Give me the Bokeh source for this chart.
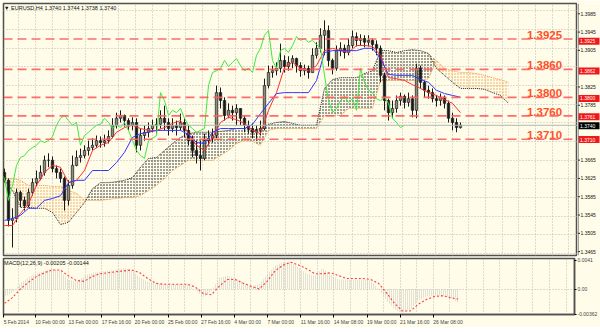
import numpy as np
from bokeh.plotting import figure
from bokeh.models import Range1d, FixedTicker, Label, Span
from bokeh.layouts import column, row
from bokeh.embed import file_html
from bokeh.resources import INLINE
from bokeh.core.properties import value

# ---------------- data (one candle = one 4px slot) ----------------
closes = [1.3622, 1.3536, 1.3540, 1.3596, 1.3579, 1.3568, 1.3596, 1.3617, 1.3626, 1.3639,
          1.3665, 1.3665, 1.3647, 1.3639, 1.3626, 1.3579, 1.3611, 1.3654, 1.3671, 1.3675,
          1.3686, 1.3692, 1.3697, 1.3707, 1.3703, 1.3707, 1.3716, 1.3740, 1.3755, 1.3761,
          1.3750, 1.3740, 1.3746, 1.3697, 1.3718, 1.3725, 1.3733, 1.3740, 1.3742, 1.3755,
          1.3746, 1.3733, 1.3740, 1.3735, 1.3746, 1.3729, 1.3707, 1.3686, 1.3675, 1.3669,
          1.3707, 1.3712, 1.3718, 1.3810, 1.3793, 1.3761, 1.3772, 1.3767, 1.3776, 1.3755,
          1.3740, 1.3733, 1.3725, 1.3729, 1.3733, 1.3825, 1.3853, 1.3857, 1.3862, 1.3879,
          1.3866, 1.3875, 1.3883, 1.3868, 1.3857, 1.3862, 1.3853, 1.3890, 1.3905, 1.3933,
          1.3943, 1.3879, 1.3862, 1.3900, 1.3905, 1.3896, 1.3911, 1.3930, 1.3922, 1.3926,
          1.3918, 1.3922, 1.3913, 1.3905, 1.3847, 1.3793, 1.3767, 1.3776, 1.3793, 1.3802,
          1.3789, 1.3797, 1.3772, 1.3862, 1.3832, 1.3815, 1.3810, 1.3797, 1.3793, 1.3800,
          1.3787, 1.3755, 1.3746, 1.3735, 1.3740]
highs = [1.3647, 1.3626, 1.3562, 1.3604, 1.3600, 1.3587, 1.3604, 1.3626, 1.3643, 1.3654,
         1.3675, 1.3680, 1.3673, 1.3654, 1.3647, 1.3630, 1.3622, 1.3675, 1.3686, 1.3690,
         1.3697, 1.3707, 1.3712, 1.3718, 1.3716, 1.3720, 1.3729, 1.3755, 1.3767, 1.3772,
         1.3763, 1.3755, 1.3757, 1.3755, 1.3733, 1.3740, 1.3746, 1.3752, 1.3755, 1.3772,
         1.3782, 1.3755, 1.3755, 1.3750, 1.3765, 1.3755, 1.3740, 1.3718, 1.3707, 1.3707,
         1.3722, 1.3729, 1.3733, 1.3825, 1.3821, 1.3800, 1.3787, 1.3782, 1.3785, 1.3776,
         1.3761, 1.3750, 1.3744, 1.3740, 1.3750, 1.3840, 1.3868, 1.3868, 1.3875, 1.3915,
         1.3890, 1.3888, 1.3890, 1.3885, 1.3875, 1.3870, 1.3868, 1.3905, 1.3918, 1.3948,
         1.3965, 1.3954, 1.3883, 1.3911, 1.3918, 1.3913, 1.3926, 1.3943, 1.3939, 1.3935,
         1.3933, 1.3933, 1.3926, 1.3922, 1.3911, 1.3853, 1.3797, 1.3793, 1.3804, 1.3810,
         1.3806, 1.3810, 1.3804, 1.3872, 1.3868, 1.3836, 1.3825, 1.3819, 1.3804, 1.3808,
         1.3804, 1.3793, 1.3767, 1.3755, 1.3746]
lows = [1.3617, 1.3523, 1.3478, 1.3532, 1.3564, 1.3557, 1.3564, 1.3589, 1.3609, 1.3622,
        1.3632, 1.3650, 1.3639, 1.3626, 1.3617, 1.3557, 1.3568, 1.3604, 1.3652, 1.3660,
        1.3669, 1.3675, 1.3686, 1.3692, 1.3692, 1.3694, 1.3701, 1.3712, 1.3733, 1.3746,
        1.3737, 1.3729, 1.3729, 1.3682, 1.3686, 1.3707, 1.3714, 1.3725, 1.3722, 1.3733,
        1.3729, 1.3718, 1.3725, 1.3718, 1.3729, 1.3714, 1.3697, 1.3671, 1.3658, 1.3643,
        1.3665, 1.3697, 1.3703, 1.3712, 1.3776, 1.3750, 1.3755, 1.3750, 1.3740, 1.3740,
        1.3725, 1.3722, 1.3712, 1.3707, 1.3718, 1.3729, 1.3819, 1.3842, 1.3847, 1.3853,
        1.3853, 1.3857, 1.3862, 1.3853, 1.3844, 1.3847, 1.3840, 1.3853, 1.3883, 1.3896,
        1.3890, 1.3866, 1.3849, 1.3857, 1.3888, 1.3883, 1.3890, 1.3905, 1.3909, 1.3911,
        1.3907, 1.3909, 1.3900, 1.3890, 1.3832, 1.3772, 1.3750, 1.3755, 1.3767, 1.3782,
        1.3776, 1.3780, 1.3757, 1.3755, 1.3819, 1.3800, 1.3797, 1.3789, 1.3780, 1.3782,
        1.3776, 1.3746, 1.3729, 1.3725, 1.3733]
first_open = 1.3639
opens = [first_open] + closes[:-1]

# Ichimoku lines, one value every second slot
tenkan = [1.3525, 1.3525, 1.3551, 1.3572, 1.3611, 1.3639, 1.3654, 1.3650, 1.3617, 1.3622,
          1.3643, 1.3686, 1.3697, 1.3703, 1.3725, 1.3735, 1.3740, 1.3733, 1.3729, 1.3729,
          1.3735, 1.3744, 1.3750, 1.3722, 1.3697, 1.3686, 1.3714, 1.3746, 1.3757, 1.3752,
          1.3744, 1.3729, 1.3722, 1.3772, 1.3810, 1.3864, 1.3875, 1.3862, 1.3857, 1.3868,
          1.3900, 1.3905, 1.3900, 1.3896, 1.3911, 1.3911, 1.3909, 1.3890, 1.3842, 1.3840,
          1.3836, 1.3827, 1.3819, 1.3810, 1.3804, 1.3795, 1.3787, 1.3767]
kijun = [1.3536, 1.3540, 1.3547, 1.3562, 1.3562, 1.3579, 1.3583, 1.3589, 1.3617, 1.3622,
         1.3622, 1.3643, 1.3643, 1.3643, 1.3660, 1.3682, 1.3714, 1.3722, 1.3725, 1.3729,
         1.3729, 1.3729, 1.3729, 1.3720, 1.3703, 1.3701, 1.3725, 1.3733, 1.3733, 1.3733,
         1.3733, 1.3742, 1.3765, 1.3787, 1.3808, 1.3810, 1.3810, 1.3810, 1.3810, 1.3836,
         1.3896, 1.3900, 1.3900, 1.3900, 1.3900, 1.3905, 1.3905, 1.3883, 1.3849, 1.3847,
         1.3847, 1.3847, 1.3838, 1.3832, 1.3815, 1.3808, 1.3804, 1.3800]
span_a = [1.3622, 1.3600, 1.3564, 1.3564, 1.3562, 1.3562, 1.3553, 1.3527, 1.3532, 1.3553,
          1.3574, 1.3604, 1.3617, 1.3617, 1.3619, 1.3622, 1.3628, 1.3650, 1.3669, 1.3671,
          1.3686, 1.3701, 1.3714, 1.3722, 1.3725, 1.3725, 1.3725, 1.3727, 1.3729, 1.3733,
          1.3733, 1.3729, 1.3733, 1.3742, 1.3746, 1.3748, 1.3744, 1.3740, 1.3740, 1.3740,
          1.3819, 1.3838, 1.3842, 1.3842, 1.3842, 1.3851, 1.3857, 1.3900, 1.3900, 1.3896,
          1.3900, 1.3902, 1.3900, 1.3894, 1.3862, 1.3847, 1.3832, 1.3819, 1.3819, 1.3819,
          1.3817, 1.3810, 1.3804, 1.3787]
span_b = [1.3626, 1.3626, 1.3622, 1.3611, 1.3611, 1.3611, 1.3609, 1.3609, 1.3600, 1.3594,
          1.3579, 1.3579, 1.3579, 1.3581, 1.3583, 1.3585, 1.3585, 1.3589, 1.3600, 1.3611,
          1.3626, 1.3643, 1.3654, 1.3665, 1.3665, 1.3665, 1.3665, 1.3675, 1.3686, 1.3701,
          1.3707, 1.3705, 1.3697, 1.3729, 1.3733, 1.3733, 1.3733, 1.3733, 1.3733, 1.3733,
          1.3761, 1.3761, 1.3761, 1.3776, 1.3776, 1.3776, 1.3776, 1.3836, 1.3836, 1.3836,
          1.3836, 1.3836, 1.3836, 1.3840, 1.3879, 1.3862, 1.3857, 1.3853, 1.3853, 1.3851,
          1.3847, 1.3842, 1.3838, 1.3832]
chikou_shift = 14

# MACD(12,26,9), one value every second slot
macd_main = [-0.00109, -0.00055, 0.00082, 0.00164, 0.00219, 0.00260, 0.00287, 0.00260, 0.00137, 0.00109,
             0.00178, 0.00232, 0.00246, 0.00260, 0.00273, 0.00301, 0.00273, 0.00164, 0.00109, 0.00082,
             0.00068, 0.00068, 0.00068, 0.00068, -0.00014, -0.00123, -0.00027, 0.00164, 0.00191, 0.00150,
             0.00096, 0.00041, 0.00068, 0.00205, 0.00328, 0.00383, 0.00383, 0.00301, 0.00219, 0.00191,
             0.00301, 0.00205, 0.00137, 0.00137, 0.00137, 0.00137, 0.00123, 0.00000, -0.00164, -0.00287,
             -0.00342, -0.00301, -0.00164, -0.00109, -0.00096, -0.00096, -0.00123, -0.00205]
macd_signal = [-0.00205, -0.00123, 0.00000, 0.00096, 0.00178, 0.00232, 0.00273, 0.00273, 0.00191, 0.00123,
               0.00109, 0.00178, 0.00219, 0.00232, 0.00246, 0.00260, 0.00273, 0.00232, 0.00150, 0.00082,
               0.00068, 0.00068, 0.00068, 0.00068, 0.00027, -0.00068, -0.00082, 0.00041, 0.00137, 0.00137,
               0.00082, 0.00041, 0.00000, 0.00109, 0.00260, 0.00342, 0.00383, 0.00342, 0.00287, 0.00219,
               0.00219, 0.00232, 0.00191, 0.00150, 0.00150, 0.00150, 0.00137, 0.00082, -0.00055, -0.00205,
               -0.00314, -0.00314, -0.00219, -0.00150, -0.00109, -0.00096, -0.00123, -0.00144]

levels = [1.3925, 1.3860, 1.3800, 1.3760, 1.3710]
level_texts = ["1.3925", "1.3860", "1.3800", "1.3760", "1.3710"]
box_texts = ["1.3925", "1.3862", "1.3800", "1.3761", "1.3710"]
price_ticks = [1.3985, 1.3945, 1.3905, 1.3865, 1.3825, 1.3785, 1.3745, 1.3705,
               1.3665, 1.3625, 1.3585, 1.3545, 1.3505, 1.3465]
hidden_ticks = [1.3865, 1.3745, 1.3705]
macd_ticks = [0.0041, 0.0, -0.00362]
macd_tick_texts = ["0.0041", "0.00", "-0.00362"]
date_labels = ["5 Feb 2014", "10 Feb 00:00", "13 Feb 00:00", "17 Feb 16:00", "20 Feb 00:00",
               "25 Feb 00:00", "27 Feb 16:00", "4 Mar 00:00", "7 Mar 00:00", "11 Mar 16:00",
               "14 Mar 08:00", "19 Mar 00:00", "21 Mar 16:00", "26 Mar 08:00"]
header = "\u25bc EURUSD,H4 1.3740 1.3744 1.3738 1.3740"
macd_header = "MACD(12,26,9) -0.00205 -0.00144"

# ---------------- styling / layout constants ----------------
BG = "#fffde9"
FRAME = "#505050"
GRID = "#bdbdb0"
FONT = "Liberation Sans"
PX_PER_PRICE = 1 / 0.0002144          # vertical scale of the price panel
TOP_PRICE = 1.40075                   # price at canvas row 0
XR = Range1d(-0.25, 143.25)           # 4 px per slot, frame from x=3 to x=577
LABEL_STEP = 8.335
label_start = [-0.2] + [round(-0.575 + LABEL_STEP * k, 3) for k in range(1, len(date_labels))]
vgrid = [round(-0.575 + LABEL_STEP / 2 * k, 3) for k in range(1, 35)]
CHAR_EM = {" ": 0.278, ":": 0.278, "F": 0.611, "e": 0.556, "b": 0.556, "M": 0.833,
           "a": 0.556, "r": 0.333}
def text_w(s, size):
    return sum(CHAR_EM.get(ch, 0.556) for ch in s) * size
label_center = [round(s + text_w(t, 5) / 2 / 4, 3) for s, t in zip(label_start, date_labels)]

# ---------------- main panel ----------------
p = figure(width=577, height=257, x_range=XR,
           y_range=Range1d(TOP_PRICE - 255 / PX_PER_PRICE, TOP_PRICE - 3 / PX_PER_PRICE),
           output_backend="svg", toolbar_location=None, x_axis_location=None,
           y_axis_location=None, min_border_left=3, min_border_right=0,
           min_border_top=3, min_border_bottom=2, background_fill_color=BG,
           border_fill_color=BG, outline_line_color=FRAME, outline_line_width=1.5)
p.ygrid.ticker = FixedTicker(ticks=price_ticks)
p.xgrid.ticker = FixedTicker(ticks=vgrid)
for g in (p.xgrid, p.ygrid):
    g.grid_line_color = GRID
    g.grid_line_dash = "1 2"
    g.grid_line_width = 1

# cloud
xc = np.arange(len(span_a)) * 2
a = np.array(span_a)
b = np.array(span_b)
top = np.maximum(a, b)
p.varea(x=xc, y1=b, y2=top, fill_alpha=0, hatch_pattern="dot", hatch_color="#111111",
        hatch_scale=3, hatch_weight=0.5)
p.varea(x=xc, y1=a, y2=top, fill_alpha=0, hatch_pattern="dot", hatch_color="#f09a40",
        hatch_scale=3, hatch_weight=0.5)
p.line(xc, a, line_color="#222222", line_dash="1 1", line_width=1)
p.line(xc, b, line_color="#f09a40", line_dash="1 1", line_width=1)

# levels
for lv in levels:
    p.add_layout(Span(location=lv, dimension="width", line_color="#ff5c5c",
                      line_dash="9 5", line_width=1.7, line_alpha=0.9))
p.add_layout(Span(location=closes[-1], dimension="width", line_color="#b4b4b4", line_width=1))
p.text(x=[130.6] * len(levels), y=levels, text=level_texts, text_font=value(FONT),
       text_font_size="11.5px", text_font_style="bold", text_color="#ff5028",
       text_baseline="alphabetic", y_offset=-4)

# candles
xs = np.arange(len(closes))
o = np.array(opens); c = np.array(closes)
inc = c >= o
p.segment(x0=xs, y0=lows, x1=xs, y1=highs, line_color="#1a1a1a", line_width=1)
p.vbar(x=xs[inc], width=0.6, top=c[inc], bottom=o[inc], fill_color="#8e8f7c",
       line_color="#1a1a1a", line_width=0.7)
p.vbar(x=xs[~inc], width=0.6, top=o[~inc], bottom=c[~inc], fill_color="#1a1a1a",
       line_color="#1a1a1a", line_width=0.7)

# ichimoku lines
xl = np.arange(len(tenkan)) * 2
p.line(xl, tenkan, line_color="#ff3030", line_width=1)
p.line(xl, kijun, line_color="#3535ff", line_width=1)
p.line(xs - chikou_shift, closes, line_color="#3ee83e", line_width=1)

p.add_layout(Label(x=-0.1, y=TOP_PRICE - 3 / PX_PER_PRICE, text=header, text_font=FONT,
                   text_font_size="5.5px", text_baseline="top", y_offset=-1,
                   text_color="#111111"))

# ---------------- price scale panel (right of the main panel) ----------------
pa = figure(width=23, height=257, x_range=Range1d(0, 23),
            y_range=Range1d(TOP_PRICE - 257 / PX_PER_PRICE, TOP_PRICE),
            output_backend="svg", toolbar_location=None, x_axis_location=None,
            y_axis_location=None, min_border=0, background_fill_color=BG,
            border_fill_color=BG, outline_line_color=None)
pa.xgrid.visible = False
pa.ygrid.visible = False
shown = [t for t in price_ticks if t not in hidden_ticks]
pa.add_layout(Span(location=0.5, dimension="height", line_color=FRAME, line_width=1))
pa.segment(x0=[0] * len(shown), y0=shown, x1=[2.5] * len(shown), y1=shown,
           line_color="#222222", line_width=1)
pa.text(x=[3] * len(shown), y=shown, text=["%.4f" % t for t in shown], text_font=value(FONT),
        text_font_size="5px", text_color="#111111", text_baseline="middle")
pa.rect(x=[11.5] * len(levels), y=levels, width=21, height=7, height_units="screen",
        fill_color="#f01818", line_color=None)
pa.text(x=[2.5] * len(levels), y=levels, text=box_texts, text_font=value(FONT),
        text_font_size="5px", text_color="white", text_baseline="middle")
pa.rect(x=[11.5], y=[closes[-1]], width=21, height=7, height_units="screen",
        fill_color="#000000", line_color=None)
pa.text(x=[2.5], y=[closes[-1]], text=["%.4f" % closes[-1]], text_font=value(FONT),
        text_font_size="5px", text_color="white", text_baseline="middle")

# ---------------- MACD panel ----------------
q = figure(width=600, height=70, x_range=XR, y_range=Range1d(-0.00365, 0.00437),
           output_backend="svg", toolbar_location=None, y_axis_location="right",
           x_axis_location="below", min_border_left=3, min_border_right=23,
           min_border_top=1, min_border_bottom=11, background_fill_color=BG,
           border_fill_color=BG, outline_line_color=FRAME, outline_line_width=1.5)
q.yaxis.ticker = FixedTicker(ticks=macd_ticks)
q.yaxis.major_label_overrides = dict(zip(macd_ticks, macd_tick_texts))
q.yaxis.major_tick_out = 2
q.xaxis.ticker = FixedTicker(ticks=label_center, minor_ticks=label_start)
q.xaxis.major_label_overrides = dict(zip(label_center, date_labels))
q.xaxis.major_tick_out = 0
q.xaxis.minor_tick_out = 3
for ax in (q.xaxis, q.yaxis):
    ax.major_label_text_font = FONT
    ax.major_label_text_font_size = "5px"
    ax.major_label_standoff = 1
    ax.major_tick_in = 0
    ax.minor_tick_in = 0
    ax.axis_line_color = FRAME
    ax.axis_line_width = 1.5
q.yaxis.minor_tick_out = 0
q.ygrid.ticker = FixedTicker(ticks=[0.0])
q.xgrid.ticker = FixedTicker(ticks=vgrid)
for g in (q.xgrid, q.ygrid):
    g.grid_line_color = GRID
    g.grid_line_dash = "1 2"
    g.grid_line_width = 1

xm = np.arange(len(macd_main)) * 2
q.varea(x=xm, y1=0, y2=macd_main, fill_alpha=0, hatch_pattern="vertical_line",
        hatch_color="#c4c4bc", hatch_scale=2, hatch_weight=1)
q.line(xm, macd_signal, line_color="#ff3a3a", line_dash="2 2", line_width=1.1)
q.add_layout(Label(x=-0.1, y=0.00437, text=macd_header, text_font=FONT, text_font_size="5.5px",
                   text_baseline="top", y_offset=-1, text_color="#111111"))

# ---------------- bottom strip ----------------
r = figure(width=600, height=5, output_backend="svg", toolbar_location=None,
           x_axis_location=None, y_axis_location=None, min_border=0,
           background_fill_color="#d4d0c8", border_fill_color="#d4d0c8",
           outline_line_color=None, x_range=Range1d(0, 1), y_range=Range1d(0, 1))
r.xgrid.visible = False
r.ygrid.visible = False

layout = column(row(p, pa, spacing=0), q, r, spacing=0)
open("out.html", "w").write(file_html(layout, INLINE))
